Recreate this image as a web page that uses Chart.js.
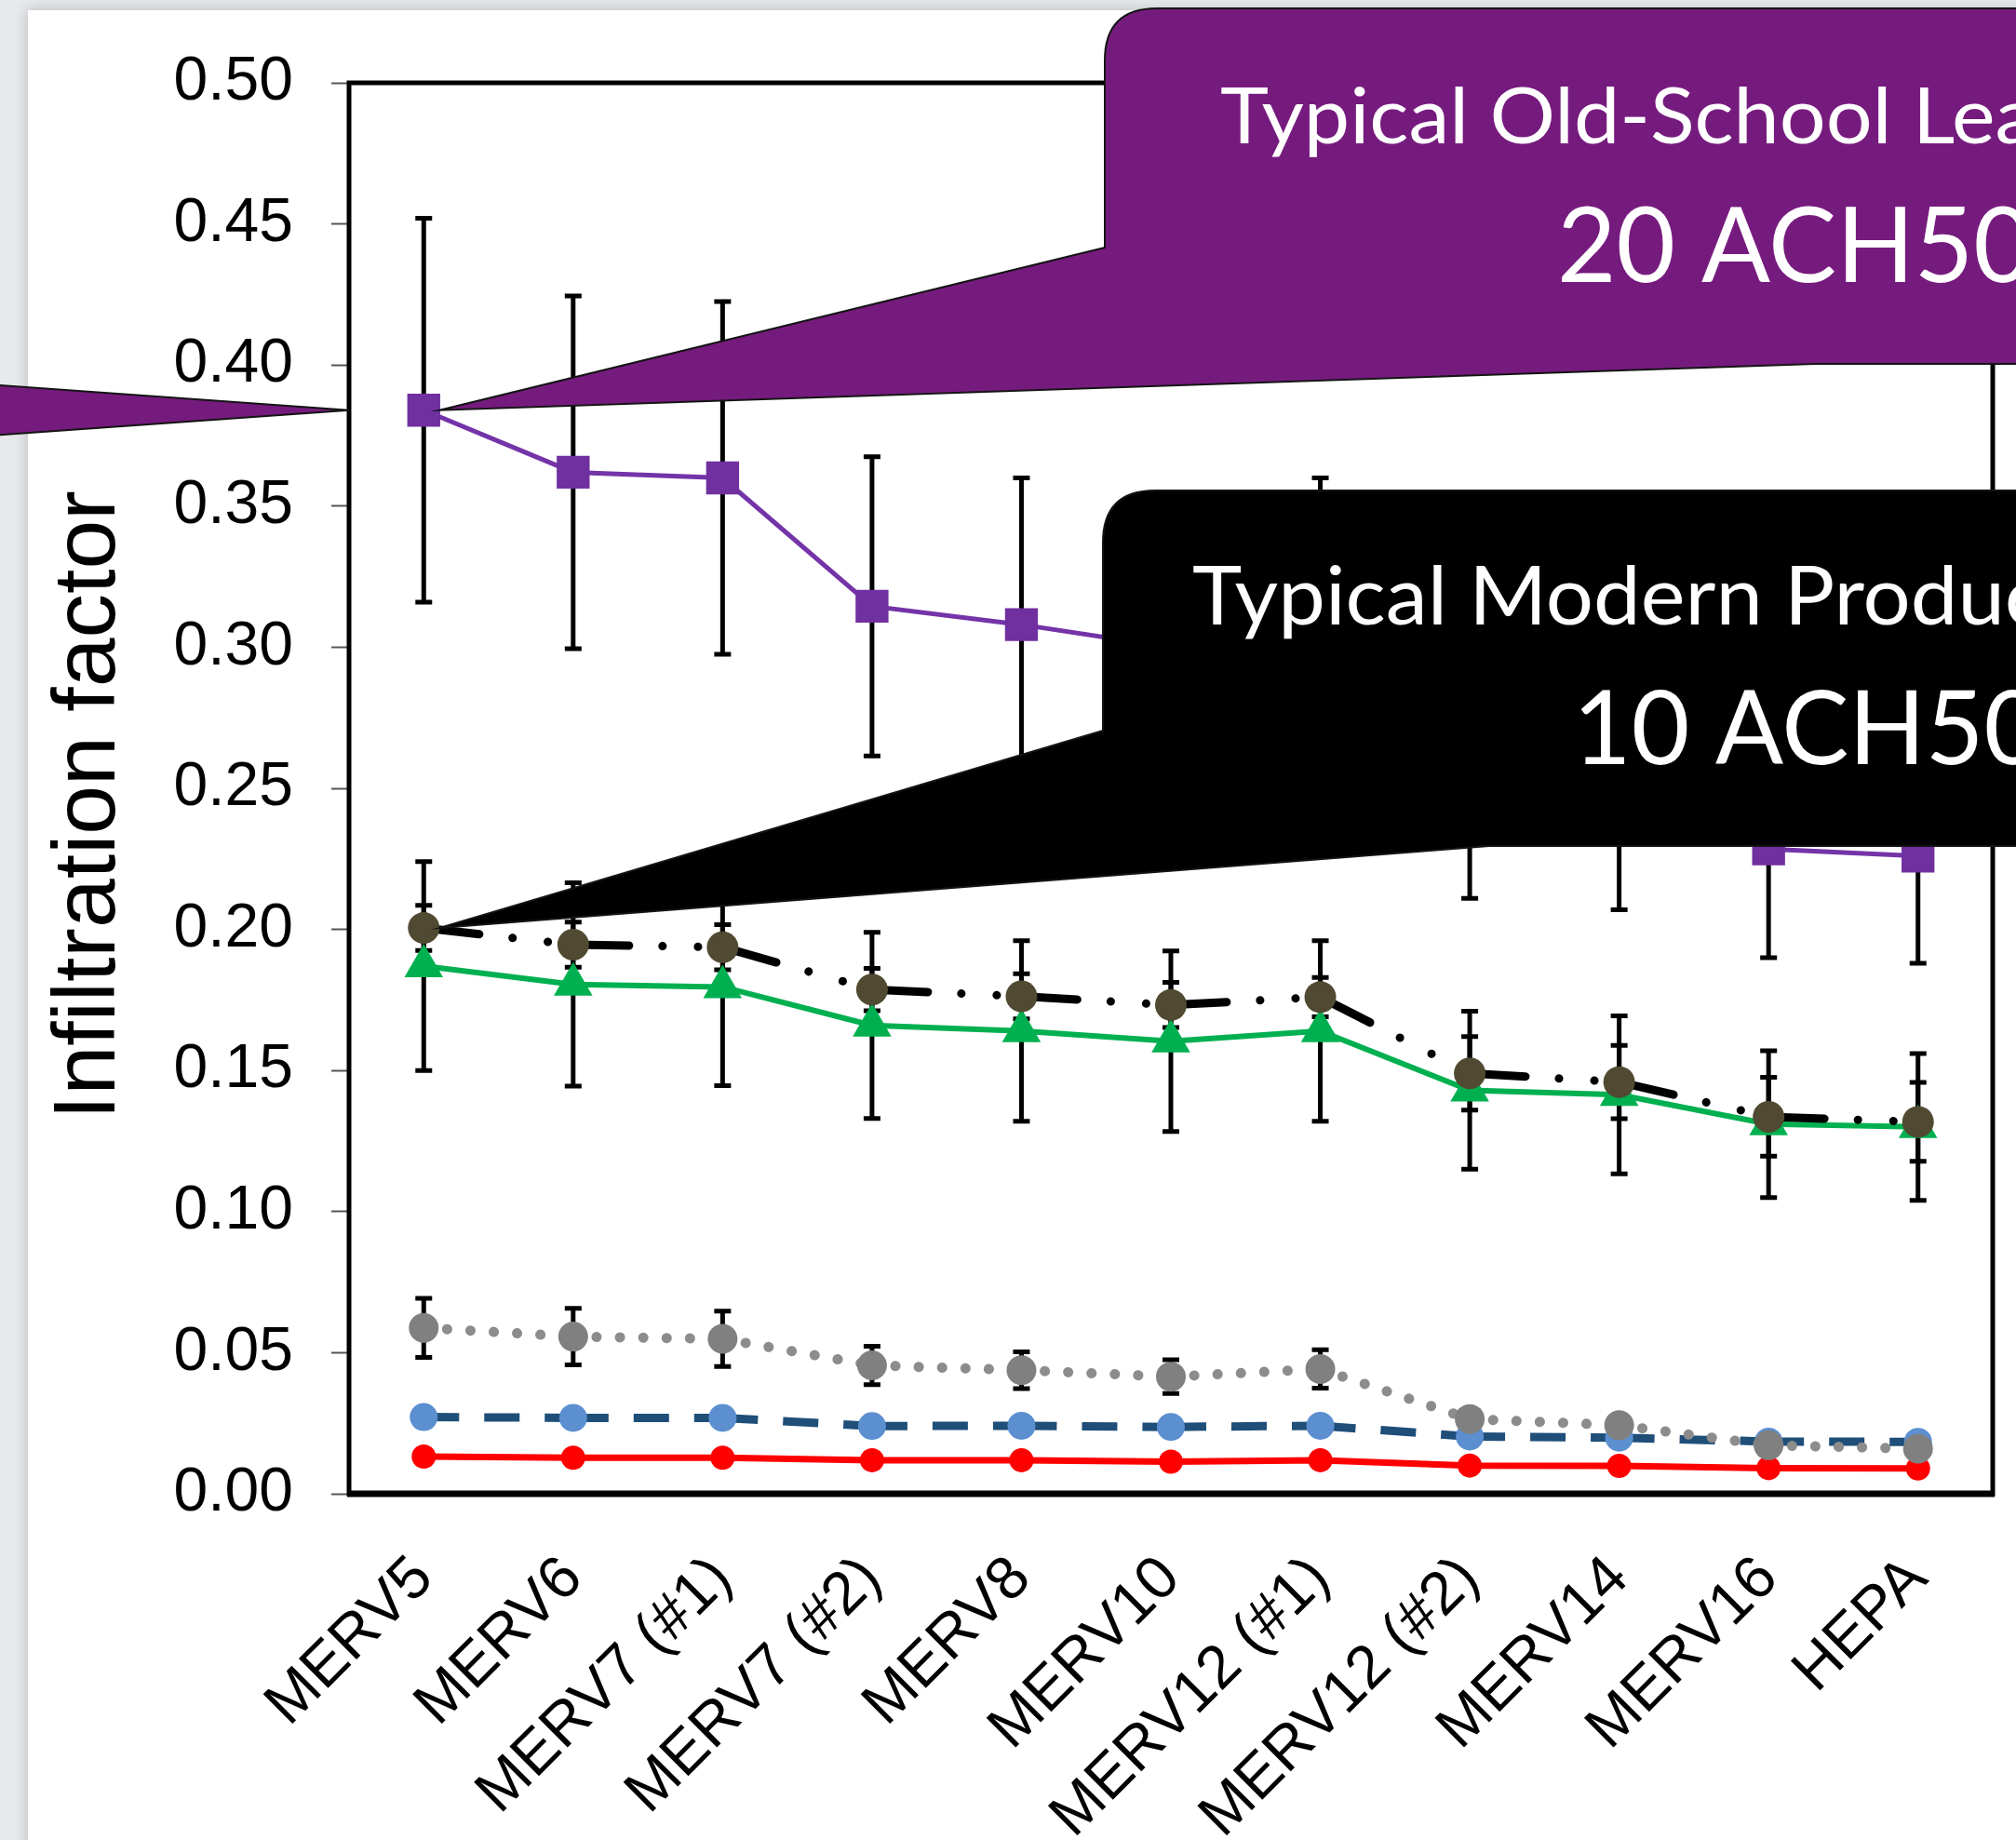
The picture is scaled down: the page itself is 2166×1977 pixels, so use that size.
<!DOCTYPE html>
<html>
<head>
<meta charset="utf-8">
<script src="https://cdn.jsdelivr.net/npm/chart.js@4.4.1/dist/chart.umd.min.js"></script>
<style>
  html, body { margin: 0; padding: 0; background: #e8e9ec; overflow: hidden; }
  #wrap { width: 2166px; height: 1977px; }
</style>
</head>
<body>
<div id="wrap"><canvas id="chart" width="2166" height="1977"></canvas></div>
<script>
// filters on the x axis
const filters = ["MERV5", "MERV6", "MERV7 (#1)", "MERV7 (#2)", "MERV8", "MERV10",
                 "MERV12 (#1)", "MERV12 (#2)", "MERV14", "MERV16", "HEPA"];
const yTickLabels = ["0.00", "0.05", "0.10", "0.15", "0.20", "0.25", "0.30", "0.35", "0.40", "0.45", "0.50"];

// purple squares
const purpleVals = [0.384, 0.362, 0.360, 0.3145, 0.308, 0.300, 0.305, 0.259, 0.255, 0.2285, 0.226];
const purpleErr  = [0.068, 0.0625, 0.0625, 0.053, 0.052, 0.050, 0.055, 0.048, 0.048, 0.0385, 0.038];
// brown circles, black dash-dot line
const blackVals = [0.2005, 0.1946, 0.1937, 0.1787, 0.1763, 0.1732, 0.176, 0.149, 0.1459, 0.1336, 0.1318];
const blackErr  = [0.008, 0.008, 0.008, 0.0075, 0.008, 0.008, 0.007, 0.013, 0.013, 0.014, 0.014];
// green triangles
const greenVals = [0.187, 0.1805, 0.1796, 0.166, 0.164, 0.1604, 0.164, 0.143, 0.1414, 0.131, 0.130];
const greenErr  = [0.037, 0.036, 0.035, 0.033, 0.032, 0.032, 0.032, 0.028, 0.028, 0.026, 0.026];
// grey, dotted
const greyVals = [0.0588, 0.0557, 0.0549, 0.0455, 0.0438, 0.0415, 0.0442, 0.0265, 0.0243, 0.0172, 0.016];
const greyErr  = [0.0105, 0.010, 0.0098, 0.0068, 0.0065, 0.006, 0.0068, 0.003, 0.003, 0.003, 0.003];
// blue, dashed
const blueVals = [0.0272, 0.0269, 0.0269, 0.0240, 0.0241, 0.0237, 0.0241, 0.0203, 0.0199, 0.0185, 0.0184];
// red, solid
const redVals = [0.0132, 0.0128, 0.0128, 0.0119, 0.0119, 0.0114, 0.0119, 0.0100, 0.0099, 0.0091, 0.0090];

const yTitle = "Infiltration factor";

const W = 2166, H = 1977;

// excel restarts the dash pattern at every point, so give each segment
// its own (practically equal) dash offset to make chart.js stroke them one by one
const restartDash = { borderDashOffset: c => c.p0DataIndex * 0.001 };

const panel = {
  id: "panel",
  beforeDraw(chart) {
    const ctx = chart.ctx;
    ctx.save();
    ctx.fillStyle = "#e8e9ec";
    ctx.fillRect(0, 0, W, H);
    ctx.shadowColor = "rgba(0,0,0,0.22)";
    ctx.shadowBlur = 14;
    ctx.fillStyle = "#ffffff";
    ctx.fillRect(30, 11, W, H);
    ctx.restore();
  }
};

const frame = {
  id: "frame",
  beforeDatasetsDraw(chart) {
    const { ctx, chartArea: a } = chart;
    ctx.save();
    ctx.strokeStyle = "#000";
    ctx.lineWidth = 5;
    ctx.strokeRect(a.left, a.top, a.right - a.left, a.bottom - a.top);
    ctx.lineWidth = 7;
    ctx.beginPath();
    ctx.moveTo(a.left - 2, a.bottom);
    ctx.lineTo(a.right + 2, a.bottom);
    ctx.stroke();

    // y axis title, a bit below the middle of the axis like the original
    ctx.translate(97, (a.top + a.bottom) / 2 + 18);
    ctx.rotate(-Math.PI / 2);
    ctx.fillStyle = "#000";
    ctx.font = "95px 'Liberation Sans'";
    ctx.textAlign = "center";
    ctx.textBaseline = "middle";
    ctx.fillText(yTitle, 0, 0);
    ctx.restore();
  }
};

const errorBars = {
  id: "errorBars",
  beforeDatasetsDraw(chart) {
    const { ctx, scales: { x, y } } = chart;
    ctx.save();
    ctx.strokeStyle = "#000";
    ctx.lineWidth = 5;
    chart.data.datasets.forEach(ds => {
      if (!ds.errorBars) return;
      ds.data.forEach((v, i) => {
        const px = x.getPixelForValue(i);
        const top = y.getPixelForValue(v + ds.errorBars[i]);
        const bot = y.getPixelForValue(v - ds.errorBars[i]);
        ctx.beginPath();
        ctx.moveTo(px, top); ctx.lineTo(px, bot);
        ctx.moveTo(px - 9, top); ctx.lineTo(px + 9, top);
        ctx.moveTo(px - 9, bot); ctx.lineTo(px + 9, bot);
        ctx.stroke();
      });
    });
    ctx.restore();
  }
};

function fitText(ctx, text, prefix, x, y, target) {
  const s = Math.max(0.8, Math.min(1.2, target / ctx.measureText(prefix).width));
  ctx.save();
  ctx.translate(x, y);
  ctx.scale(s, 1);
  ctx.fillText(text, 0, 0);
  ctx.restore();
}

function calloutPath(ctx, b) {
  ctx.beginPath();
  ctx.moveTo(b.left, b.tailTop);
  ctx.lineTo(b.tip[0], b.tip[1]);
  ctx.lineTo(b.tailEnd[0], b.tailEnd[1]);
  ctx.lineTo(W + 40, b.bottom);
  ctx.lineTo(W + 40, b.top);
  ctx.lineTo(b.left + b.r, b.top);
  ctx.quadraticCurveTo(b.left, b.top, b.left, b.top + b.r);
  ctx.closePath();
}

const callouts = {
  id: "callouts",
  afterDraw(chart) {
    const { ctx, scales: { x, y }, chartArea } = chart;
    const x0 = x.getPixelForValue(0);
    const yP = y.getPixelForValue(purpleVals[0]);
    const yB = y.getPixelForValue(blackVals[0]);
    ctx.save();
    ctx.lineJoin = "miter";

    // wedge coming in from the left edge of the slide
    ctx.fillStyle = "#761b7e";
    ctx.strokeStyle = "#141414";
    ctx.lineWidth = 2;
    ctx.beginPath();
    ctx.moveTo(-5, yP - 27);
    ctx.lineTo(chartArea.left, yP);
    ctx.lineTo(-5, yP + 27);
    ctx.closePath();
    ctx.fill();
    ctx.stroke();

    // purple callout
    calloutPath(ctx, { left: 1187, top: 9, bottom: 391, r: 56, tailTop: 266,
                       tip: [x0 + 17, yP], tailEnd: [1950, 391] });
    ctx.fill();
    ctx.stroke();

    // black callout
    ctx.fillStyle = "#000";
    calloutPath(ctx, { left: 1185, top: 527, bottom: 909, r: 56, tailTop: 785,
                       tip: [x0 + 17, yB], tailEnd: [1600, 909] });
    ctx.fill();
    ctx.stroke();

    ctx.fillStyle = "#ffffff";
    ctx.textBaseline = "alphabetic";
    ctx.textAlign = "left";
    ctx.font = "84px Lato";
    fitText(ctx, "Typical Old-School Leaky Home", "Typical Old-School ", 1311, 154, 744);
    ctx.font = "112px Lato";
    fitText(ctx, "20 ACH50", "20 ", 1673, 303, 155);
    ctx.font = "87px Lato";
    fitText(ctx, "Typical Modern Production Home", "Typical Modern ", 1281, 671, 636);
    ctx.font = "110px Lato";
    fitText(ctx, "10 ACH50", "10 ", 1690, 821, 153);
    ctx.restore();
  }
};

const ctx = document.getElementById("chart").getContext("2d");

new Chart(ctx, {
  type: "line",
  data: {
    labels: filters,
    datasets: [
      {
        data: purpleVals, errorBars: purpleErr,
        borderColor: "#7434a8", borderWidth: 5,
        pointStyle: "rect", pointRadius: 25,
        pointBackgroundColor: "#7030a0", pointBorderColor: "#7030a0", pointBorderWidth: 0
      },
      {
        data: blackVals, errorBars: blackErr,
        borderColor: "#000000", borderWidth: 9,
        borderDash: [60, 36, 0.1, 38, 0.1, 40], borderCapStyle: "round",
        segment: restartDash,
        pointStyle: "circle", pointRadius: 17,
        pointBackgroundColor: "#514a32", pointBorderColor: "#514a32", pointBorderWidth: 0
      },
      {
        data: greenVals, errorBars: greenErr,
        borderColor: "#00b050", borderWidth: 6,
        pointStyle: "triangle", pointRadius: 24,
        pointBackgroundColor: "#00b050", pointBorderColor: "#00b050", pointBorderWidth: 0
      },
      {
        data: greyVals, errorBars: greyErr,
        borderColor: "#8c8c8c", borderWidth: 11,
        borderDash: [0.1, 25], borderCapStyle: "round",
        segment: restartDash,
        pointStyle: "circle", pointRadius: 16,
        pointBackgroundColor: "#808080", pointBorderColor: "#808080", pointBorderWidth: 0
      },
      {
        data: blueVals,
        borderColor: "#1f4e79", borderWidth: 9,
        borderDash: [38, 27],
        segment: restartDash,
        pointStyle: "circle", pointRadius: 15,
        pointBackgroundColor: "#5b8fd0", pointBorderColor: "#5b8fd0", pointBorderWidth: 0
      },
      {
        data: redVals,
        borderColor: "#ff0000", borderWidth: 7,
        pointStyle: "circle", pointRadius: 13,
        pointBackgroundColor: "#ff0000", pointBorderColor: "#ff0000", pointBorderWidth: 0
      }
    ]
  },
  options: {
    responsive: false,
    animation: false,
    devicePixelRatio: 1,
    layout: { padding: { top: 89, right: 11, left: 0, bottom: 0 } },
    plugins: {
      legend: { display: false },
      tooltip: { enabled: false }
    },
    elements: { line: { tension: 0, fill: false } },
    scales: {
      x: {
        type: "category",
        offset: true,
        grid: { display: false },
        border: { display: false },
        ticks: {
          autoSkip: false,
          minRotation: 45, maxRotation: 45,
          padding: 45,
          color: "#000",
          font: { family: "Liberation Sans", size: 65 }
        },
        afterFit(scale) { scale.height = 372; }
      },
      y: {
        min: 0, max: 0.5,
        grid: { drawOnChartArea: false, drawTicks: true, tickLength: 19, tickColor: "#555", tickWidth: 2 },
        border: { display: false },
        ticks: {
          stepSize: 0.05,
          padding: 41,
          color: "#000",
          font: { family: "Liberation Sans", size: 66 },
          callback: (v, i) => yTickLabels[i]
        },
        afterFit(scale) { scale.width = 375; }
      }
    }
  },
  plugins: [panel, frame, errorBars, callouts]
});
</script>
</body>
</html>
